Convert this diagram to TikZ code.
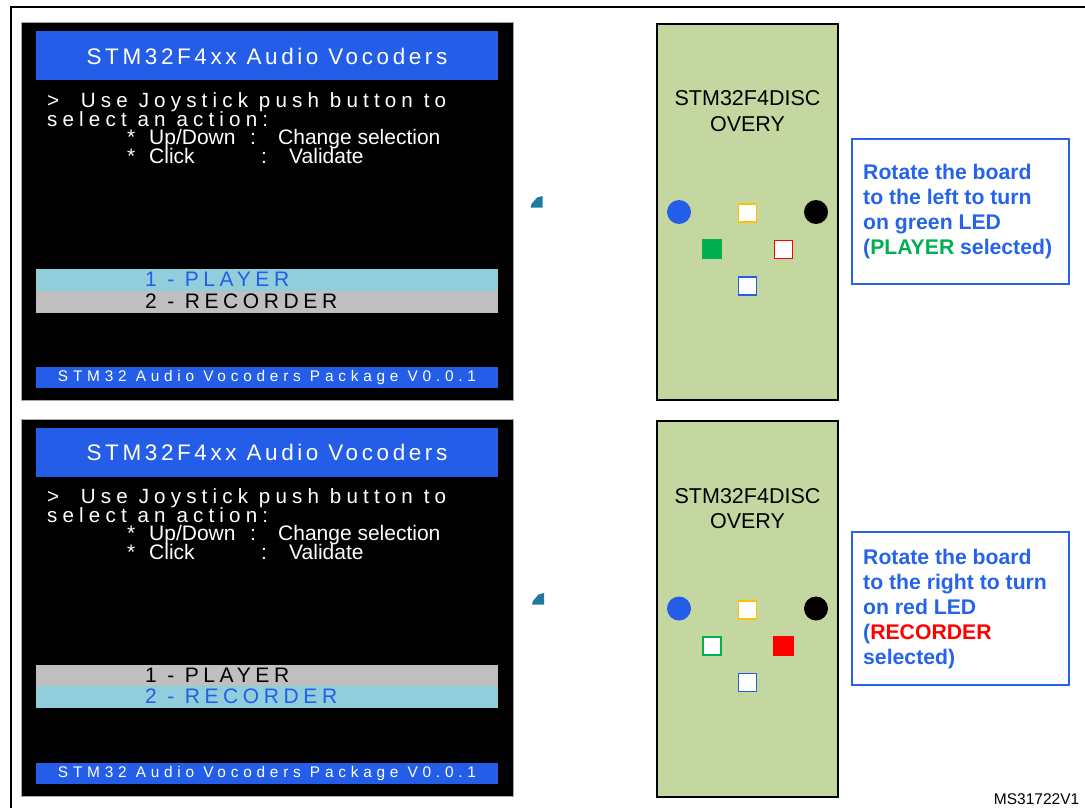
\documentclass[tikz,border=0pt]{standalone}
\usepackage{fontspec}
\setmainfont{Liberation Sans}
\newfontfamily\lcdtitlefont[LetterSpace=16]{Liberation Sans}
\newfontfamily\lcdfont[LetterSpace=25]{Liberation Sans}
\newfontfamily\lcdmenufont[LetterSpace=22]{Liberation Sans}
\newfontfamily\lcdfootfont[LetterSpace=31]{Liberation Sans}
\usepackage{tikz}

\definecolor{lcdblue}{RGB}{36,94,232}
\definecolor{selblue}{RGB}{146,205,220}
\definecolor{selgray}{RGB}{191,191,191}
\definecolor{boardgreen}{RGB}{196,215,160}
\definecolor{infoblue}{RGB}{37,99,235}
\definecolor{ledgreen}{RGB}{0,176,80}
\definecolor{ledorange}{RGB}{255,192,0}
\definecolor{blobteal}{RGB}{31,122,158}

\tikzset{
  screen/.style={fill=black, draw=black!35, line width=1pt, minimum width=492pt, minimum height=377pt, inner sep=0pt},
  titlebar/.style={fill=lcdblue, text=white, minimum width=462pt, minimum height=49pt, inner sep=0pt, font=\lcdtitlefont\fontsize{22.5}{23}\selectfont},
  lcdtext/.style={anchor=base west, inner sep=0pt, text=white, font=\lcdfont\fontsize{20.6}{21}\selectfont},
  lcdplain/.style={anchor=base west, inner sep=0pt, text=white, font=\fontsize{21}{21}\selectfont},
  menubar/.style={minimum width=462pt, minimum height=22pt, inner sep=0pt},
  menutext/.style={anchor=base west, inner sep=0pt, font=\lcdmenufont\fontsize{21}{21}\selectfont},
  footbar/.style={fill=lcdblue, text=white, minimum width=462pt, minimum height=21pt, inner sep=0pt, font=\lcdfootfont\fontsize{15.4}{16}\selectfont},
  board/.style={fill=boardgreen, draw=black, line width=1.5pt, minimum width=181pt, minimum height=376pt, inner sep=0pt},
  boardtext/.style={anchor=base, inner sep=0pt, font=\fontsize{21.5}{22}\selectfont},
  led/.style={fill=white, line width=1.5pt, minimum size=18pt, inner sep=0pt},
  ledround/.style={circle, minimum size=24pt, inner sep=0pt},
  infobox/.style={draw=infoblue, line width=1.5pt, minimum width=217pt, inner sep=0pt},
  infotext/.style={anchor=north west, inner sep=0pt, align=left, text=infoblue, font=\bfseries\fontsize{21.2}{25}\selectfont},
}

\begin{document}
\begin{tikzpicture}[x=1pt, y=-1pt]
			\useasboundingbox (0,0) rectangle (1085,808);
			\draw[line width=2pt] (1085,7) -- (11,7) -- (11,808);
			% upper screen
			\node[screen] (screenA) at (267,211.5) {};
			\node[titlebar] (titleA) at (267,56) {STM32F4xx Audio Vocoders};
			\node[lcdtext] (useA) at (47,107.3) {>\ \ Use Joystick push button to};
			\node[lcdtext] (selectA) at (47,126) {select an action:};
			\node[lcdplain] (updownA) at (127,144.3) {\makebox[22pt][l]{*}\makebox[101pt][l]{Up/Down}\makebox[28pt][l]{:}Change selection};
			\node[lcdplain] (clickA) at (127,163.3) {\makebox[22pt][l]{*}\makebox[112pt][l]{Click}\makebox[28pt][l]{:}Validate};
			\node[menubar, fill=selblue] (barplayerA) at (267,280) {};
			\node[menubar, fill=selgray] (barrecorderA) at (267,302) {};
			\node[menutext, text=lcdblue] (playerA) at (145,286.7) {1 - PLAYER};
			\node[menutext, text=black] (recorderA) at (145,308.3) {2 - RECORDER};
			\node[footbar] (footA) at (267,377.5) {STM32 Audio Vocoders Package V0.0.1};
			% lower screen
			\node[screen] (screenB) at (267,607.5) {};
			\node[titlebar] (titleB) at (267,452) {STM32F4xx Audio Vocoders};
			\node[lcdtext] (useB) at (47,503.3) {>\ \ Use Joystick push button to};
			\node[lcdtext] (selectB) at (47,522) {select an action:};
			\node[lcdplain] (updownB) at (127,540.3) {\makebox[22pt][l]{*}\makebox[101pt][l]{Up/Down}\makebox[28pt][l]{:}Change selection};
			\node[lcdplain] (clickB) at (127,559.3) {\makebox[22pt][l]{*}\makebox[112pt][l]{Click}\makebox[28pt][l]{:}Validate};
			\node[menubar, fill=selgray] (barplayerB) at (267,675.5) {};
			\node[menubar, fill=selblue] (barrecorderB) at (267,697) {};
			\node[menutext, text=black] (playerB) at (145,682.2) {1 - PLAYER};
			\node[menutext, text=lcdblue] (recorderB) at (145,703.8) {2 - RECORDER};
			\node[footbar] (footB) at (267,773.5) {STM32 Audio Vocoders Package V0.0.1};
			% blobs
			\fill[blobteal] (530.5,207.5) -- (531.5,204) -- (537,197.5) -- (542.5,196) -- (542.5,207.5) -- cycle;
			\fill[blobteal] (532,604.5) -- (533,601) -- (538.5,594.5) -- (544,593) -- (544,604.5) -- cycle;
			% upper board
			\node[board] (boardA) at (747.5,212) {};
			\node[boardtext] (nameA) at (747.5,106) {STM32F4DISC};
			\node[boardtext] (nameAb) at (747.5,131.5) {OVERY};
			\node[ledround, fill=lcdblue] (bluedotA) at (679,212) {};
			\node[ledround, fill=black] (blackdotA) at (816,212) {};
			\node[led, draw=ledorange] (orangeA) at (747.5,213) {};
			\node[led, draw=ledgreen, fill=ledgreen, minimum size=19pt] (greenA) at (712,249) {};
			\node[led, draw=red] (redA) at (783.5,249.5) {};
			\node[led, draw=lcdblue] (blueA) at (747.5,286) {};
			% lower board
			\node[board] (boardB) at (747.5,609) {};
			\node[boardtext] (nameB) at (747.5,503) {STM32F4DISC};
			\node[boardtext] (nameBb) at (747.5,528.5) {OVERY};
			\node[ledround, fill=lcdblue] (bluedotB) at (679,608.5) {};
			\node[ledround, fill=black] (blackdotB) at (816,608.5) {};
			\node[led, draw=ledorange] (orangeB) at (747.5,610) {};
			\node[led, draw=ledgreen] (greenB) at (712,646) {};
			\node[led, draw=red, fill=red, minimum size=19pt] (redB) at (783.5,646) {};
			\node[led, draw=lcdblue] (blueB) at (747.5,682.5) {};
			% info boxes
			\node[infobox, minimum height=145pt] (infoA) at (960.5,211.5) {};
			\node[infotext] (infotextA) at (863,164.3) {Rotate the board\\to the left to turn\\on green LED\\(\textcolor{ledgreen}{PLAYER} selected)};
			\node[infobox, minimum height=153pt] (infoB) at (960.5,608.5) {};
			\node[infotext] (infotextB) at (863,549) {Rotate the board\\to the right to turn\\on red LED\\(\textcolor{red}{RECORDER}\\selected)};
			\node[anchor=base east, inner sep=0pt, font=\fontsize{15.5}{15.5}\selectfont] (msref) at (1079.5,804) {MS31722V1};
		\end{tikzpicture}
\end{document}
